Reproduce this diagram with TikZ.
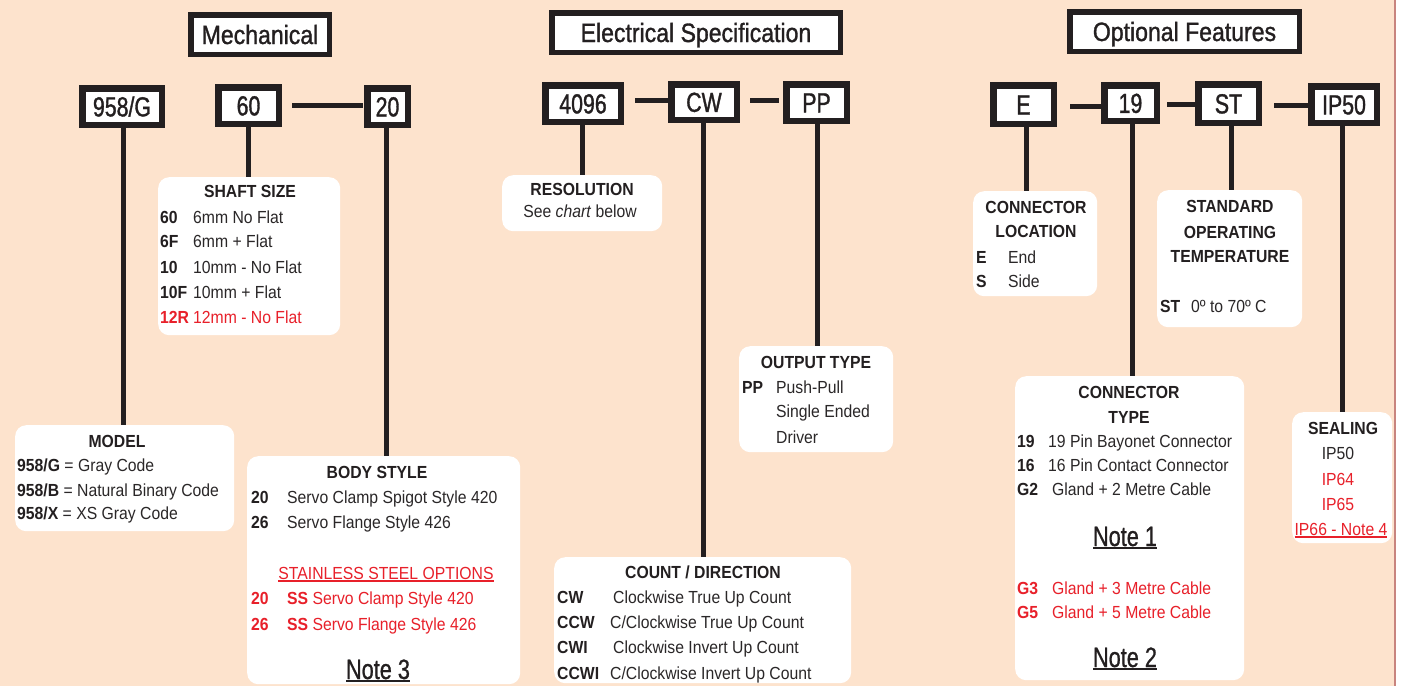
\documentclass[tikz,border=0pt]{standalone}
\usepackage{fontspec}
\setmainfont{Liberation Sans}[FakeStretch=0.9]
\newfontfamily\codefont{Liberation Sans}[FakeStretch=0.775,FakeBold=1.2]
\newfontfamily\notefont{Liberation Sans}[FakeStretch=0.775,FakeBold=0.8]
\newfontfamily\titlefont{Liberation Sans}[FakeStretch=0.87,FakeBold=1.2]
\definecolor{ink}{HTML}{231F20}
\definecolor{txt}{HTML}{2A2728}
\definecolor{specred}{HTML}{E8202A}
\definecolor{bgpeach}{HTML}{FDE3CD}
\definecolor{edgeline}{HTML}{C8847E}
\newcommand{\ulx}[3]{\setbox0=\hbox{#3}\rlap{\rule[-#1]{\wd0}{#2}}\box0}
\begin{document}
\begin{tikzpicture}[x=1pt,y=-1pt,
  codebox/.style={draw=ink, line width=6.5pt, fill=white, inner sep=0pt,
    text height=19.7pt, text depth=0pt, text=ink,
    font=\codefont\fontsize{27.5}{27.5}\selectfont},
  titlebox/.style={draw=ink, line width=5.5pt, fill=white, inner sep=0pt,
    text height=19pt, text depth=0pt, text=ink,
    font=\titlefont\fontsize{26.5}{26.5}\selectfont},
  infobox/.style={fill=white, rounded corners=11pt, inner sep=0pt, anchor=north west},
  vline/.style={draw=ink, line width=5pt},
  hline/.style={draw=ink, line width=5pt},
  head/.style={anchor=base, inner sep=0pt, text=ink, font=\bfseries\fontsize{17.5}{17.5}\selectfont},
  lt/.style={anchor=base west, inner sep=0pt, text=txt, font=\fontsize{17.5}{17.5}\selectfont},
  ct/.style={anchor=base, inner sep=0pt, text=txt, font=\fontsize{17.5}{17.5}\selectfont},
  cd/.style={anchor=base west, inner sep=0pt, text=ink, font=\bfseries\fontsize{17.5}{17.5}\selectfont},
  note/.style={anchor=base, inner sep=0pt, text=ink, font=\notefont\fontsize{28}{28}\selectfont},
]
\useasboundingbox (0,0) rectangle (1401,686);
\fill[white] (0,0) rectangle (1401,686);
\fill[bgpeach] (0,0) rectangle (1394,686);
\draw[edgeline, line width=2pt] (1394.5,0) -- (1394.5,686);

% titles
\node[titlebox, minimum width=138.5pt, minimum height=39.5pt] (tmech) at (260,34.5) {Mechanical};
\node[titlebox, minimum width=288.5pt, minimum height=39.5pt] (telec) at (696,32.5) {Electrical Specification};
\node[titlebox, minimum width=229.5pt, minimum height=39.5pt] (topt) at (1184.5,31.5) {Optional Features};

% code boxes
\node[codebox, minimum width=79.5pt, minimum height=36.5pt] (c958) at (122,106.5) {958/G};
\node[codebox, minimum width=60.5pt, minimum height=36.5pt] (c60) at (248.5,105.5) {60};
\node[codebox, minimum width=40.5pt, minimum height=36.5pt] (c20) at (387.5,106.5) {20};
\node[codebox, minimum width=75.5pt, minimum height=36.5pt] (c4096) at (583,103.5) {4096};
\node[codebox, minimum width=65.5pt, minimum height=35.5pt] (cCW) at (704,102) {CW};
\node[codebox, minimum width=60.5pt, minimum height=36.5pt] (cPP) at (816.5,102.5) {PP};
\node[codebox, minimum width=60.5pt, minimum height=38.5pt] (cE) at (1023.5,104.5) {E};
\node[codebox, minimum width=52.5pt, minimum height=35.5pt] (c19) at (1130.5,103) {19};
\node[codebox, minimum width=60.5pt, minimum height=38.5pt] (cST) at (1228.5,103.5) {ST};
\node[codebox, minimum width=65.5pt, minimum height=36.5pt] (cIP) at (1344,104.5) {IP50};

% joining dashes
\draw[hline, shorten >=11.25pt] ([xshift=10.25pt]c60.east) -- ([xshift=10.25pt]c60.east -| c20.west);
\draw[hline, shorten >=8.25pt] ([xshift=11.25pt,yshift=3pt]c4096.east) -- ([xshift=11.25pt,yshift=3pt]c4096.east -| cCW.west);
\draw[hline, shorten >=14.25pt] ([xshift=10.25pt,yshift=2pt]cCW.east) -- ([xshift=10.25pt,yshift=2pt]cCW.east -| cPP.west);
\draw[hline, shorten >=10.25pt] ([xshift=13.25pt,yshift=-1.5pt]cE.east) -- ([xshift=13.25pt,yshift=-1.5pt]cE.east -| c19.west);
\draw[hline, shorten >=6.25pt] ([xshift=7.25pt,yshift=-1pt]c19.east) -- ([xshift=7.25pt,yshift=-1pt]c19.east -| cST.west);
\draw[hline, shorten >=12.25pt] ([xshift=12.25pt,yshift=-1.5pt]cST.east) -- ([xshift=12.25pt,yshift=-1.5pt]cST.east -| cIP.west);

% info boxes
\node[infobox, minimum width=182pt, minimum height=158pt] (shaft) at (158,177) {};
\node[infobox, minimum width=219pt, minimum height=106pt] (model) at (15,425) {};
\node[infobox, minimum width=273pt, minimum height=228pt] (body) at (247,456) {};
\node[infobox, minimum width=160pt, minimum height=56pt] (reso) at (502,175) {};
\node[infobox, minimum width=154pt, minimum height=106pt] (outp) at (739,346) {};
\node[infobox, minimum width=297pt, minimum height=126pt] (count) at (554,557) {};
\node[infobox, minimum width=124pt, minimum height=105pt] (cloc) at (973,191) {};
\node[infobox, minimum width=145pt, minimum height=137pt] (stdt) at (1157,190) {};
\node[infobox, minimum width=229pt, minimum height=304pt] (ctype) at (1015,376) {};
\node[infobox, minimum width=100pt, minimum height=131pt] (seal) at (1292,412) {};

% vertical connectors
\draw[vline] ([xshift=1pt]c958.south) -- ([xshift=1pt]c958.south |- model.north);
\draw[vline] ([xshift=-0.5pt]c60.south) -- ([xshift=-0.5pt]c60.south |- shaft.north);
\draw[vline] ([xshift=-1.5pt]c20.south) -- ([xshift=-1.5pt]c20.south |- body.north);
\draw[vline] ([xshift=-1pt]c4096.south) -- ([xshift=-1pt]c4096.south |- reso.north);
\draw[vline] ([xshift=-1pt]cCW.south) -- ([xshift=-1pt]cCW.south |- count.north);
\draw[vline] ([xshift=0.5pt]cPP.south) -- ([xshift=0.5pt]cPP.south |- outp.north);
\draw[vline] ([xshift=2.5pt]cE.south) -- ([xshift=2.5pt]cE.south |- cloc.north);
\draw[vline] ([xshift=1.5pt]c19.south) -- ([xshift=1.5pt]c19.south |- ctype.north);
\draw[vline] ([xshift=2.5pt]cST.south) -- ([xshift=2.5pt]cST.south |- stdt.north);
\draw[vline] ([xshift=-2pt]cIP.south) -- ([xshift=-2pt]cIP.south |- seal.north);

% SHAFT SIZE
\node[head] (shh) at (250,197) {SHAFT SIZE};
\node[cd] (sh1c) at (160,223) {60};  \node[lt] (sh1t) at (193,223) {6mm No Flat};
\node[cd] (sh2c) at (160,247) {6F};  \node[lt] (sh2t) at (193,247) {6mm + Flat};
\node[cd] (sh3c) at (160,273) {10};  \node[lt] (sh3t) at (193,273) {10mm - No Flat};
\node[cd] (sh4c) at (160,298) {10F}; \node[lt] (sh4t) at (193,298) {10mm + Flat};
\node[cd, text=specred] (sh5c) at (160,323) {12R}; \node[lt, text=specred] (sh5t) at (193,323) {12mm - No Flat};

% MODEL
\node[head] (mdh) at (117,447) {MODEL};
\node[lt] (md1) at (17,471) {\textbf{\color{ink}958/G} = Gray Code};
\node[lt] (md2) at (17,496) {\textbf{\color{ink}958/B} = Natural Binary Code};
\node[lt] (md3) at (17,519) {\textbf{\color{ink}958/X} = XS Gray Code};

% BODY STYLE
\node[head] (bdh) at (377,478) {BODY STYLE};
\node[cd] (bd1c) at (251,503) {20}; \node[lt] (bd1t) at (287,503) {Servo Clamp Spigot Style 420};
\node[cd] (bd2c) at (251,528) {26}; \node[lt] (bd2t) at (287,528) {Servo Flange Style 426};
\node[ct, text=specred] (bdss) at (386,579) {\ulx{2.5pt}{1.6pt}{STAINLESS STEEL OPTIONS}};
\node[cd, text=specred] (bd3c) at (251,604) {20}; \node[lt, text=specred] (bd3t) at (287,604) {\textbf{SS} Servo Clamp Style 420};
\node[cd, text=specred] (bd4c) at (251,630) {26}; \node[lt, text=specred] (bd4t) at (287,630) {\textbf{SS} Servo Flange Style 426};
\node[note] (n3) at (378,679) {\ulx{3pt}{2pt}{Note 3}};

% RESOLUTION
\node[head] (rsh) at (582,195) {RESOLUTION};
\node[ct] (rst) at (580,217) {See \textit{chart} below};

% OUTPUT TYPE
\node[head] (oth) at (816,368) {OUTPUT TYPE};
\node[cd] (ot1c) at (742,393) {PP}; \node[lt] (ot1t) at (776,393) {Push-Pull};
\node[lt] (ot2t) at (776,417) {Single Ended};
\node[lt] (ot3t) at (776,443) {Driver};

% COUNT / DIRECTION
\node[head] (cnh) at (703,578) {COUNT / DIRECTION};
\node[cd] (cn1c) at (557,603) {CW};   \node[lt] (cn1t) at (613,603) {Clockwise True Up Count};
\node[cd] (cn2c) at (557,628) {CCW};  \node[lt] (cn2t) at (610,628) {C/Clockwise True Up Count};
\node[cd] (cn3c) at (557,653) {CWI};  \node[lt] (cn3t) at (613,653) {Clockwise Invert Up Count};
\node[cd] (cn4c) at (557,679) {CCWI}; \node[lt] (cn4t) at (610,679) {C/Clockwise Invert Up Count};

% CONNECTOR LOCATION
\node[head] (clh1) at (1036,213) {CONNECTOR};
\node[head] (clh2) at (1036,237) {LOCATION};
\node[cd] (cl1c) at (976,263) {E}; \node[lt] (cl1t) at (1008,263) {End};
\node[cd] (cl2c) at (976,287) {S}; \node[lt] (cl2t) at (1008,287) {Side};

% STANDARD OPERATING TEMPERATURE
\node[head] (sth1) at (1230,212) {STANDARD};
\node[head] (sth2) at (1230,238) {OPERATING};
\node[head] (sth3) at (1230,262) {TEMPERATURE};
\node[cd] (st1c) at (1160,312) {ST}; \node[lt] (st1t) at (1191,312) {0º to 70º C};

% CONNECTOR TYPE
\node[head] (cth1) at (1129,398) {CONNECTOR};
\node[head] (cth2) at (1129,423) {TYPE};
\node[cd] (ct1c) at (1017,447) {19}; \node[lt] (ct1t) at (1048,447) {19 Pin Bayonet Connector};
\node[cd] (ct2c) at (1017,471) {16}; \node[lt] (ct2t) at (1048,471) {16 Pin Contact Connector};
\node[cd] (ct3c) at (1017,495) {G2}; \node[lt] (ct3t) at (1052,495) {Gland + 2 Metre Cable};
\node[note] (n1) at (1125,546) {\ulx{3pt}{2pt}{Note 1}};
\node[cd, text=specred] (ct4c) at (1017,594) {G3}; \node[lt, text=specred] (ct4t) at (1052,594) {Gland + 3 Metre Cable};
\node[cd, text=specred] (ct5c) at (1017,618) {G5}; \node[lt, text=specred] (ct5t) at (1052,618) {Gland + 5 Metre Cable};
\node[note] (n2) at (1125,667) {\ulx{3pt}{2pt}{Note 2}};

% SEALING
\node[head] (slh) at (1343,434) {SEALING};
\node[ct] (sl1) at (1338,459) {IP50};
\node[ct, text=specred] (sl2) at (1338,485) {IP64};
\node[ct, text=specred] (sl3) at (1338,510) {IP65};
\node[ct, text=specred] (sl4) at (1341,535) {\ulx{2.5pt}{1.4pt}{IP66 - Note 4}};
\end{tikzpicture}
\end{document}
